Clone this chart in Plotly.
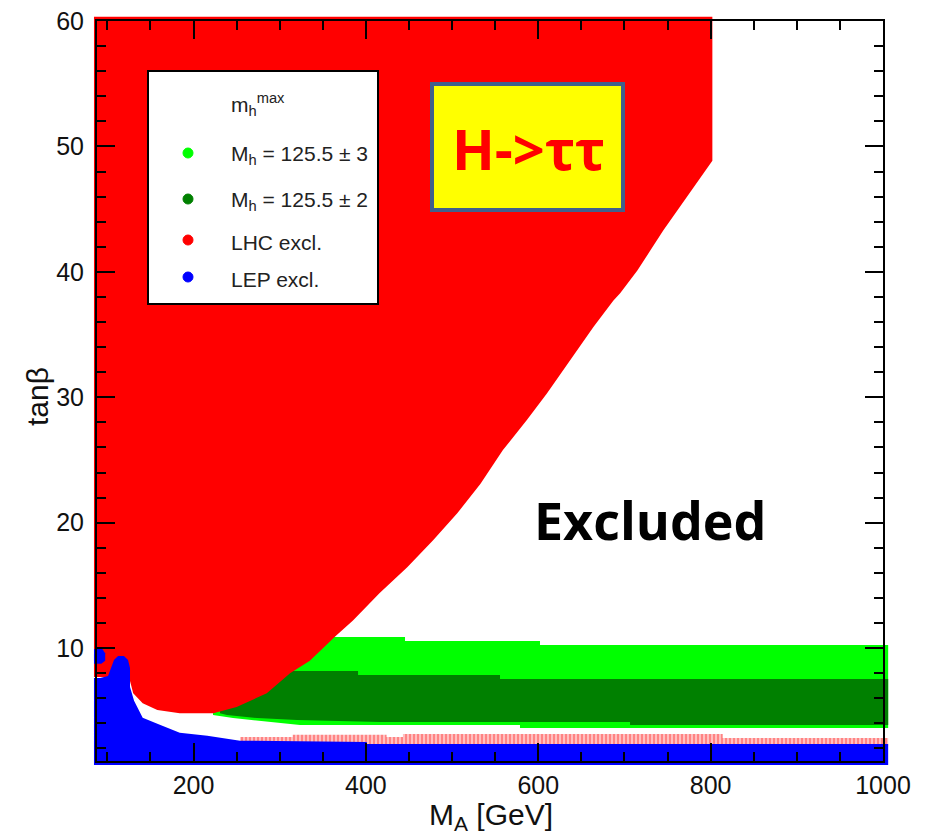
import plotly.graph_objects as go

# ---------------------------------------------------------------- data (M_A [GeV], tan(beta))
# LHC H->tautau exclusion (red)
LHC_MA = [84.5, 802, 802, 780, 761, 745, 730, 715, 695, 687, 664, 634, 610, 587, 559, 533,
          506, 478, 448, 416, 385, 364, 335, 312, 285, 250, 223, 184, 158, 141, 130, 126,
          110, 84.5]
LHC_TB = [60.33, 60.33, 48.85, 46.7, 44.9, 43.3, 41.7, 40.1, 38.3, 37.7, 35.6, 32.7, 30.3,
          28.2, 25.8, 23.1, 20.75, 18.6, 16.45, 14.4, 12.2, 10.9, 9.0, 8.0, 6.4, 5.3, 4.8,
          4.8, 5.06, 5.6, 6.4, 7.45, 7.7, 7.7]

# LHC exclusion sliver just above the LEP region (light red, hatched)
LHC_LOW_MA = [254, 315, 315, 424, 424, 443, 443, 814, 814, 1006, 1006, 254]
LHC_LOW_TB = [2.91, 2.91, 3.1, 3.1, 2.91, 2.91, 3.15, 3.15, 2.83, 2.83, 2.2, 2.2]

# LEP exclusion (blue)
LEP_MA = [84.5, 1006, 1006, 401, 401, 254, 216, 184, 158, 141, 131, 126.3, 126.3, 124.0,
          119.3, 112.4, 107.7, 104.2, 100.8, 91.5, 84.5]
LEP_TB = [0.68, 0.68, 2.35, 2.35, 2.51, 2.62, 3.02, 3.26, 3.97, 4.45, 5.81, 6.9, 8.41, 9.05,
          9.37, 9.37, 9.05, 8.41, 7.77, 7.61, 7.61]
LEP_EDGE_MA = [84.5, 93, 97.5, 97.5, 93, 84.5]
LEP_EDGE_TB = [9.9, 10.05, 9.6, 9.0, 8.75, 8.75]

# M_h = 125.5 +- 3 GeV (light green)
MH3_MA = [222.6, 222.6, 445.4, 445.4, 602, 602, 1006, 1006, 578.8, 578.8, 323.6, 245.8, 222.6]
MH3_TB = [4.66, 10.89, 10.89, 10.57, 10.57, 10.25, 10.25, 3.63, 3.63, 3.87, 3.87, 4.43, 4.66]

# M_h = 125.5 +- 2 GeV (dark green)
MH2_MA = [230.7, 230.7, 390.9, 390.9, 555.6, 555.6, 1006, 1006, 706.5, 706.5, 416.4, 320.1,
          273.7, 238.8, 230.7]
MH2_TB = [4.8, 8.17, 8.17, 7.86, 7.86, 7.54, 7.54, 3.87, 3.87, 4.11, 4.11, 4.27, 4.43, 4.66, 4.8]

LEGEND_LABELS = ["M<sub>h</sub> = 125.5 ± 3", "M<sub>h</sub> = 125.5 ± 2", "LHC excl.", "LEP excl."]
LEGEND_COLORS = ["#00ff00", "#008000", "#ff0000", "#0000ff"]

X_RANGE = [88, 1000]
Y_RANGE = [1, 60]
X_TITLE = "M<sub>A</sub> [GeV]"
Y_TITLE = "tanβ"

# ---------------------------------------------------------------- layout geometry (pixels)
W, H = 928, 836
ML, MR, MT, MB = 60, 20, 5, 50
PW, PH = W - ML - MR, H - MT - MB
FL, FR, FT, FB = 97, 883, 21, 761          # frame of the axes box


def px_x(p):
    return (p - ML) / PW


def px_y(p):
    return 1 - (p - MT) / PH


# the filled regions live on a slightly larger subplot so they can spill a few
# pixels past the frame, the way a dense marker scan does
sx = (FR - FL) / (X_RANGE[1] - X_RANGE[0])
sy = (FB - FT) / (Y_RANGE[1] - Y_RANGE[0])
DATA_XR = [X_RANGE[0] - (FL - ML) / sx, X_RANGE[1] + (ML + PW - FR) / sx]
DATA_YR = [Y_RANGE[0] - (MT + PH - FB) / sy, Y_RANGE[1] + (FT - MT) / sy]

fig = go.Figure()


def region(xs, ys, color, **kw):
    fig.add_trace(go.Scatter(x=xs, y=ys, mode="lines", fill="toself", fillcolor=color,
                             line=dict(width=0, color=color, shape="linear"),
                             hoverinfo="skip", showlegend=False, xaxis="x", yaxis="y", **kw))


region(MH3_MA, MH3_TB, "#00ff00")
region(MH2_MA, MH2_TB, "#008000")
region(LHC_LOW_MA, LHC_LOW_TB, "#ff9a9a",
       fillpattern=dict(shape="|", fgcolor="#ff3a3a", bgcolor="#ffc0c0", size=4, solidity=0.45))
region(LHC_MA, LHC_TB, "#ff0000")
region(LEP_MA, LEP_TB, "#0000ff")
region(LEP_EDGE_MA, LEP_EDGE_TB, "#0000ff")

# empty trace that carries the framed axes
fig.add_trace(go.Scatter(x=[], y=[], xaxis="x2", yaxis="y2", showlegend=False, hoverinfo="skip"))

FONT = "Liberation Sans, Arial, sans-serif"
tick_font = dict(family=FONT, size=25, color="#111111")
frame_common = dict(showline=True, linewidth=2, linecolor="black", mirror="allticks",
                    ticks="inside", ticklen=18, tickwidth=2, tickcolor="black",
                    showgrid=False, zeroline=False, tickfont=tick_font, fixedrange=True,
                    automargin=False)

fig.update_layout(
    width=W, height=H,
    margin=dict(l=ML, r=MR, t=MT, b=MB, autoexpand=False),
    paper_bgcolor="white", plot_bgcolor="rgba(0,0,0,0)",
    showlegend=False,
    xaxis=dict(domain=[0, 1], range=DATA_XR, visible=False, fixedrange=True, automargin=False),
    yaxis=dict(domain=[0, 1], range=DATA_YR, visible=False, fixedrange=True, automargin=False),
    xaxis2=dict(domain=[px_x(FL), px_x(FR)], range=X_RANGE, anchor="y2", tick0=0, dtick=200,
                minor=dict(dtick=50, ticklen=9, tickwidth=2, tickcolor="black", ticks="inside"),
                ticklabelstandoff=1, **frame_common),
    yaxis2=dict(domain=[px_y(FB), px_y(FT)], range=Y_RANGE, anchor="x2", tick0=0, dtick=10,
                minor=dict(dtick=2, ticklen=9, tickwidth=2, tickcolor="black", ticks="inside"),
                ticklabelstandoff=6, **frame_common),
)

shapes = []
annotations = []

# axis titles
annotations.append(dict(xref="paper", yref="paper", x=px_x(491), y=px_y(816),
                        xanchor="center", yanchor="middle", showarrow=False,
                        text=X_TITLE, font=dict(family=FONT, size=30, color="#111111")))
annotations.append(dict(xref="paper", yref="paper", x=px_x(37), y=px_y(397),
                        xanchor="center", yanchor="middle", showarrow=False, textangle=-90,
                        text=Y_TITLE, font=dict(family=FONT, size=30, color="#111111")))

# legend box
shapes.append(dict(type="rect", xref="paper", yref="paper",
                   x0=px_x(148), x1=px_x(378), y0=px_y(304), y1=px_y(71),
                   fillcolor="white", line=dict(color="black", width=2), layer="above"))
legend_font = dict(family=FONT, size=21, color="#222222")
annotations.append(dict(xref="paper", yref="paper", x=px_x(229), y=px_y(104),
                        xanchor="left", yanchor="middle", showarrow=False,
                        text="m<sub>h</sub><sup>max</sup>", font=legend_font))
for i, (lab, col) in enumerate(zip(LEGEND_LABELS, LEGEND_COLORS)):
    cy = [153, 199, 240, 277][i]
    shapes.append(dict(type="circle", xref="paper", yref="paper",
                       x0=px_x(183), x1=px_x(193), y0=px_y(cy + 5), y1=px_y(cy - 5),
                       fillcolor=col, line=dict(color=col, width=1), layer="above"))
    annotations.append(dict(xref="paper", yref="paper", x=px_x(229), y=px_y(cy + 2),
                            xanchor="left", yanchor="middle", showarrow=False,
                            text=lab, font=legend_font))

# process label box
shapes.append(dict(type="rect", xref="paper", yref="paper",
                   x0=px_x(432), x1=px_x(623), y0=px_y(210), y1=px_y(84),
                   fillcolor="#ffff00", line=dict(color="#41608c", width=4), layer="above"))
annotations.append(dict(xref="paper", yref="paper", x=px_x(528), y=px_y(148),
                        xanchor="center", yanchor="middle", showarrow=False,
                        text="H-&gt;ττ",
                        font=dict(family="Open Sans, sans-serif", size=56, color="#ff0000",
                                  weight="bold")))
annotations.append(dict(xref="paper", yref="paper", x=px_x(650), y=px_y(519),
                        xanchor="center", yanchor="middle", showarrow=False,
                        text="Excluded",
                        font=dict(family="Open Sans, sans-serif", size=52, color="#000000",
                                  weight="bold")))

fig.update_layout(shapes=shapes, annotations=annotations)
fig.write_html("out.html")
